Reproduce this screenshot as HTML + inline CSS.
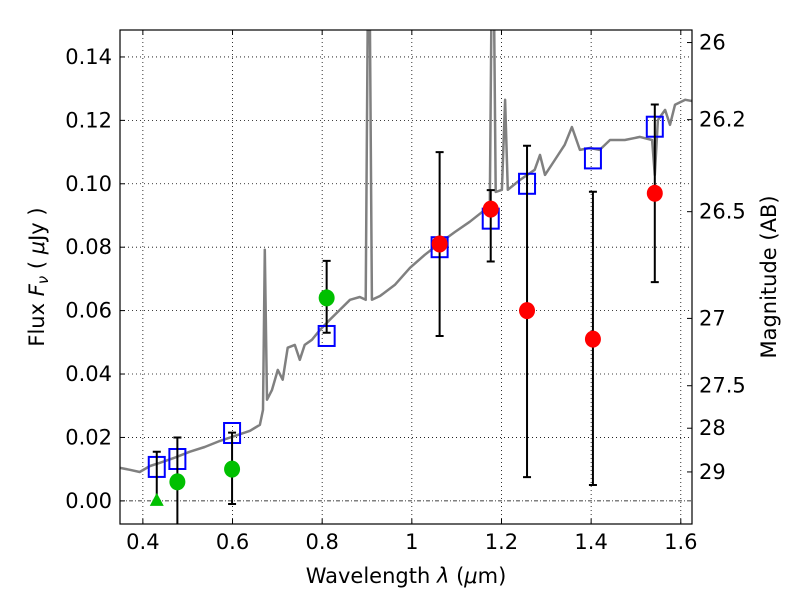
<!DOCTYPE html>
<html><head><meta charset="utf-8"><style>body{margin:0;background:#fff}svg{display:block;font-family:"DejaVu Sans","Liberation Sans",sans-serif}</style></head>
<body>
<svg id="chart" width="800" height="600">
<g id="grid"></g>
<g id="spec"></g>
<g id="marks"></g>
<rect x="120" y="30" width="572" height="494" fill="none" stroke="#000" stroke-width="1.2"/>
<g id="ticks"></g>
<text x="406" y="583" font-size="21" text-anchor="middle">Wavelength  <tspan font-style="italic">λ</tspan> (<tspan font-style="italic">μ</tspan>m)</text>
<text transform="translate(44,277) rotate(-90)" font-size="21" text-anchor="middle">Flux  <tspan font-style="italic">F<tspan font-size="15" dy="4">ν</tspan></tspan><tspan dy="-4">  ( </tspan><tspan font-style="italic">μ</tspan>Jy )</text>
<text transform="translate(776,277) rotate(-90)" font-size="21" text-anchor="middle">Magnitude (AB)</text>
</svg>
<script>
const xTicks=[0.4,0.6,0.8,1.0,1.2,1.4,1.6];
const xTickLabels=["0.4","0.6","0.8","1","1.2","1.4","1.6"];
const yTicks=[0,0.02,0.04,0.06,0.08,0.10,0.12,0.14];
const yTickLabels=["0.00","0.02","0.04","0.06","0.08","0.10","0.12","0.14"];
const magTicks=[26,26.2,26.5,27,27.5,28,29];
const magTickLabels=["26","26.2","26.5","27","27.5","28","29"];
const specWave=[0.349,0.371,0.393,0.416,0.438,0.471,0.505,0.538,0.572,0.605,0.639,0.661,0.668,0.672,0.677,0.688,0.701,0.712,0.723,0.739,0.750,0.761,0.777,0.795,0.817,0.839,0.862,0.884,0.897,0.902,0.906,0.911,0.929,0.962,0.996,1.029,1.063,1.096,1.129,1.163,1.174,1.178,1.183,1.187,1.201,1.208,1.214,1.241,1.274,1.286,1.297,1.319,1.341,1.357,1.375,1.397,1.419,1.442,1.475,1.509,1.536,1.542,1.549,1.565,1.576,1.587,1.610,1.625];
const specFlux=[0.0104,0.0098,0.0091,0.0110,0.0120,0.0136,0.0155,0.0170,0.0189,0.0205,0.0221,0.0240,0.0287,0.0792,0.0319,0.0350,0.0413,0.0382,0.0483,0.0492,0.0445,0.0492,0.0508,0.0539,0.0571,0.0602,0.0634,0.0643,0.0634,0.16,0.16,0.0634,0.0646,0.0681,0.0735,0.0776,0.0814,0.0848,0.0880,0.0918,0.0933,0.16,0.16,0.0974,0.0981,0.1265,0.0981,0.1012,0.1044,0.1091,0.1028,0.1075,0.1123,0.1179,0.1107,0.1113,0.1107,0.1138,0.1138,0.1148,0.1138,0.1028,0.1201,0.1233,0.1186,0.1249,0.1265,0.1261];
const sqWave=[0.431,0.477,0.599,0.81,1.062,1.176,1.257,1.404,1.542];
const sqFlux=[0.0107,0.0132,0.0214,0.052,0.080,0.089,0.100,0.108,0.118];
const redWave=[1.062,1.176,1.257,1.404,1.542];
const redFlux=[0.081,0.092,0.060,0.051,0.097];
const redLo=[0.052,0.0755,0.0075,0.005,0.069];
const redHi=[0.110,0.098,0.112,0.0975,0.125];
const greenWave=[0.477,0.599,0.81];
const greenFlux=[0.006,0.010,0.064];
const greenLo=[-0.012,-0.001,0.053];
const greenHi=[0.020,0.0215,0.0757];
const triWave=[0.431];
const triFlux=[0.0];
const triLo=[0.0];
const triHi=[0.0155];

const X0=120,X1=692,Y0=30,Y1=524,xmin=0.349,xmax=1.625,ymin=-0.0073,ymax=0.1485;
const sx=v=>X0+(v-xmin)/(xmax-xmin)*(X1-X0);
const sy=v=>Y1-(v-ymin)/(ymax-ymin)*(Y1-Y0);
const NS="http://www.w3.org/2000/svg";
function mk(tag,attrs,parent){const e=document.createElementNS(NS,tag);for(const k in attrs)e.setAttribute(k,attrs[k]);parent.appendChild(e);return e;}
const grid=document.getElementById('grid'),ticks=document.getElementById('ticks'),spec=document.getElementById('spec'),marks=document.getElementById('marks');
xTicks.forEach((t,i)=>{const x=sx(t);
 let g=mk('line',{x1:x,x2:x,y1:Y0,y2:Y1,stroke:'#000','stroke-width':0.8,'stroke-dasharray':'1,3'},grid);
 
 
 mk('line',{x1:x,x2:x,y1:Y1,y2:Y1-5,stroke:'#000'},ticks);
 mk('line',{x1:x,x2:x,y1:Y0,y2:Y0+5,stroke:'#000'},ticks);
 let l=mk('text',{x:x,y:Y1+25,'font-size':21,'text-anchor':'middle'},ticks);l.textContent=xTickLabels[i];
 
 
});
yTicks.forEach((t,i)=>{const y=sy(t);
 let g=mk('line',{x1:X0,x2:X1,y1:y,y2:y,stroke:'#000','stroke-width':0.8,'stroke-dasharray':t===0?'4,2,1,2':'1,3'},grid);
 
 
 mk('line',{x1:X0,x2:X0+5,y1:y,y2:y,stroke:'#000'},ticks);
 let l=mk('text',{x:X0-8,y:y+7,'font-size':21,'text-anchor':'end'},ticks);l.textContent=yTickLabels[i];
 
 
});
magTicks.forEach((m,i)=>{const f=Math.pow(10,(23.9-m)/2.5);const y=sy(f);
 mk('line',{x1:X1,x2:X1-5,y1:y,y2:y,stroke:'#000'},ticks);
 let l=mk('text',{x:X1+7,y:y+7,'font-size':21},ticks);l.textContent=magTickLabels[i];
 
 
});
mk('clipPath',{id:'clip'},document.getElementById('chart'));
mk('rect',{x:X0,y:Y0,width:X1-X0,height:Y1-Y0},document.getElementById('clip'));
spec.setAttribute('clip-path','url(#clip)');
marks.setAttribute('clip-path','url(#clip)');
let d=specWave.map((w,i)=>(i?'L':'M')+sx(w).toFixed(1)+','+sy(specFlux[i]).toFixed(1)).join(' ');
let p=mk('path',{d:d,fill:'none',stroke:'#808080','stroke-width':2.5,'stroke-linejoin':'round'},spec);


function err(w,lo,hi){const x=sx(w);
 let e=mk('path',{d:`M${x},${sy(lo)}V${sy(hi)}M${x-4},${sy(lo)}H${x+4}M${x-4},${sy(hi)}H${x+4}`,stroke:'#000','stroke-width':2,fill:'none'},marks);
 
 }
sqWave.forEach((w,i)=>{let r=mk('rect',{x:sx(w)-8,y:sy(sqFlux[i])-10,width:16,height:20,fill:'none',stroke:'#0000ff','stroke-width':2},marks);
 
 });
greenWave.forEach((w,i)=>{err(w,greenLo[i],greenHi[i]);});
triWave.forEach((w,i)=>{err(w,triLo[i],triHi[i]);});
redWave.forEach((w,i)=>{err(w,redLo[i],redHi[i]);});
greenWave.forEach((w,i)=>{let c=mk('ellipse',{cx:sx(w),cy:sy(greenFlux[i]),rx:8,ry:8.5,fill:'#00c000'},marks);
 
 });
triWave.forEach((w,i)=>{const x=sx(w),y=sy(triFlux[i]);let t=mk('path',{d:`M${x},${y-8}L${x+7},${y+5}L${x-7},${y+5}Z`,fill:'#00c000'},marks);
 
 });
redWave.forEach((w,i)=>{let c=mk('ellipse',{cx:sx(w),cy:sy(redFlux[i]),rx:8,ry:8.5,fill:'#ff0000'},marks);
 
 });
</script>
</body></html>
